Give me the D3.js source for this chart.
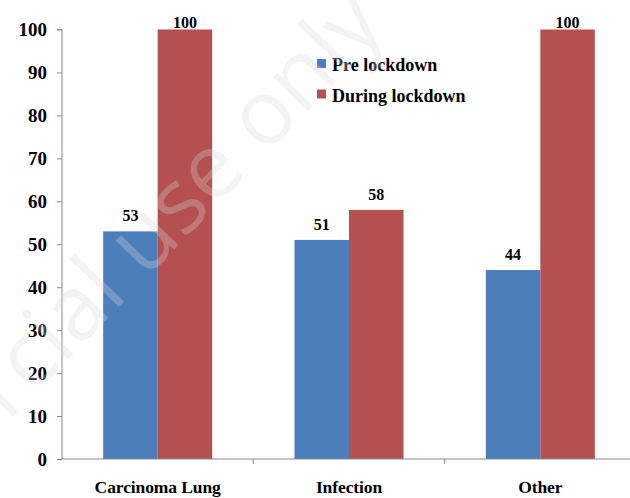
<!DOCTYPE html>
<html>
<head>
<meta charset="utf-8">
<script src="https://cdn.jsdelivr.net/npm/d3@7"></script>
<style>
  html, body { margin: 0; padding: 0; background: #fff; }
  svg { display: block; }
</style>
</head>
<body>
<svg id="chart" width="630" height="498"></svg>
<script>
// Chart data
const categories = ["Carcinoma Lung", "Infection", "Other"];
const seriesNames = ["Pre lockdown", "During lockdown"];
const preLockdown = [53, 51, 44];
const duringLockdown = [100, 58, 100];
const yTicks = [0, 10, 20, 30, 40, 50, 60, 70, 80, 90, 100];

const colors = ["#4d7ebc", "#b55050"];
const axisColor = "#8a8a8a";
const SERIF = "'Liberation Serif', 'Times New Roman', serif";

const svg = d3.select("#chart");
const W = 630, H = 498;
const plot = { left: 62, right: 636, top: 29.5, bottom: 459 };

const rows = categories.map((c, i) => ({
  category: c,
  values: [preLockdown[i], duringLockdown[i]]
}));

const y = d3.scaleLinear().domain([0, 100]).range([plot.bottom, plot.top]);
const x0 = d3.scaleBand().domain(categories).range([plot.left, plot.right]).padding(0);
const groupW = 109;
const x1 = d3.scaleBand().domain(seriesNames)
  .range([(x0.bandwidth() - groupW) / 2, (x0.bandwidth() + groupW) / 2]).padding(0);

function serifText(sel, size) {
  return sel.style("font-family", SERIF)
    .style("font-weight", "bold")
    .style("font-size", size)
    .attr("fill", "#000");
}

// Bars
const groups = svg.append("g").selectAll("g")
  .data(rows).join("g")
  .attr("transform", d => `translate(${x0(d.category)},0)`);

groups.selectAll("rect")
  .data(d => d.values.map((v, k) => ({ v, k })))
  .join("rect")
  .attr("x", d => x1(seriesNames[d.k]))
  .attr("width", x1.bandwidth())
  .attr("y", d => y(d.v))
  .attr("height", d => y(0) - y(d.v))
  .attr("fill", d => colors[d.k]);

// Value labels above bars
groups.selectAll("text.val")
  .data(d => d.values.map((v, k) => ({ v, k })))
  .join("text")
  .attr("class", "val")
  .attr("x", d => x1(seriesNames[d.k]) + x1.bandwidth() / 2)
  .attr("y", d => Math.max(y(d.v) - 10, 28))
  .attr("text-anchor", "middle")
  .call(serifText, "16px")
  .text(d => d.v);

// Y axis
const yAxis = d3.axisLeft(y).tickValues(yTicks).tickSize(5).tickPadding(10);
const gy = svg.append("g").attr("transform", `translate(${plot.left},0)`).call(yAxis);
gy.select(".domain").attr("stroke", axisColor).attr("d", `M-5,${plot.top}H0V${plot.bottom}`);
gy.selectAll(".tick line").attr("stroke", axisColor);
gy.selectAll(".tick text")
  .call(serifText, "19px")
  .attr("dy", "0.34em");

// X axis
const xAxis = d3.axisBottom(x0).tickSize(0).tickPadding(0);
const gx = svg.append("g").attr("transform", `translate(0,${plot.bottom})`).call(xAxis);
gx.select(".domain").attr("stroke", axisColor).attr("d", `M${plot.left},0H${W}`);
gx.selectAll(".tick text")
  .attr("y", 34)
  .attr("dy", 0)
  .call(serifText, "17.5px")
  .style("letter-spacing", "-0.1px");
// Category separators
gx.append("g").selectAll("line")
  .data(categories.slice(1))
  .join("line")
  .attr("x1", d => x0(d)).attr("x2", d => x0(d))
  .attr("y1", 0).attr("y2", 5)
  .attr("stroke", axisColor);

// Legend
const legend = svg.append("g").attr("transform", "translate(317,59)");
const items = legend.selectAll("g").data(seriesNames).join("g")
  .attr("transform", (d, i) => `translate(0,${i * 30.5})`);
items.append("rect").attr("width", 9).attr("height", 9)
  .attr("fill", (d, i) => colors[i]);
items.append("text").attr("x", 15).attr("y", 12)
  .call(serifText, "18px")
  .text(d => d);

// Faint diagonal watermark over the chart
svg.append("text")
  .attr("transform", "translate(388,28) rotate(-46)")
  .attr("text-anchor", "end")
  .style("font-family", "'Open Sans', sans-serif")
  .style("font-size", "90px")
  .style("fill", "#d8d8d8")
  .style("fill-opacity", 0.3)
  .text("commercial use only");
</script>
</body>
</html>
